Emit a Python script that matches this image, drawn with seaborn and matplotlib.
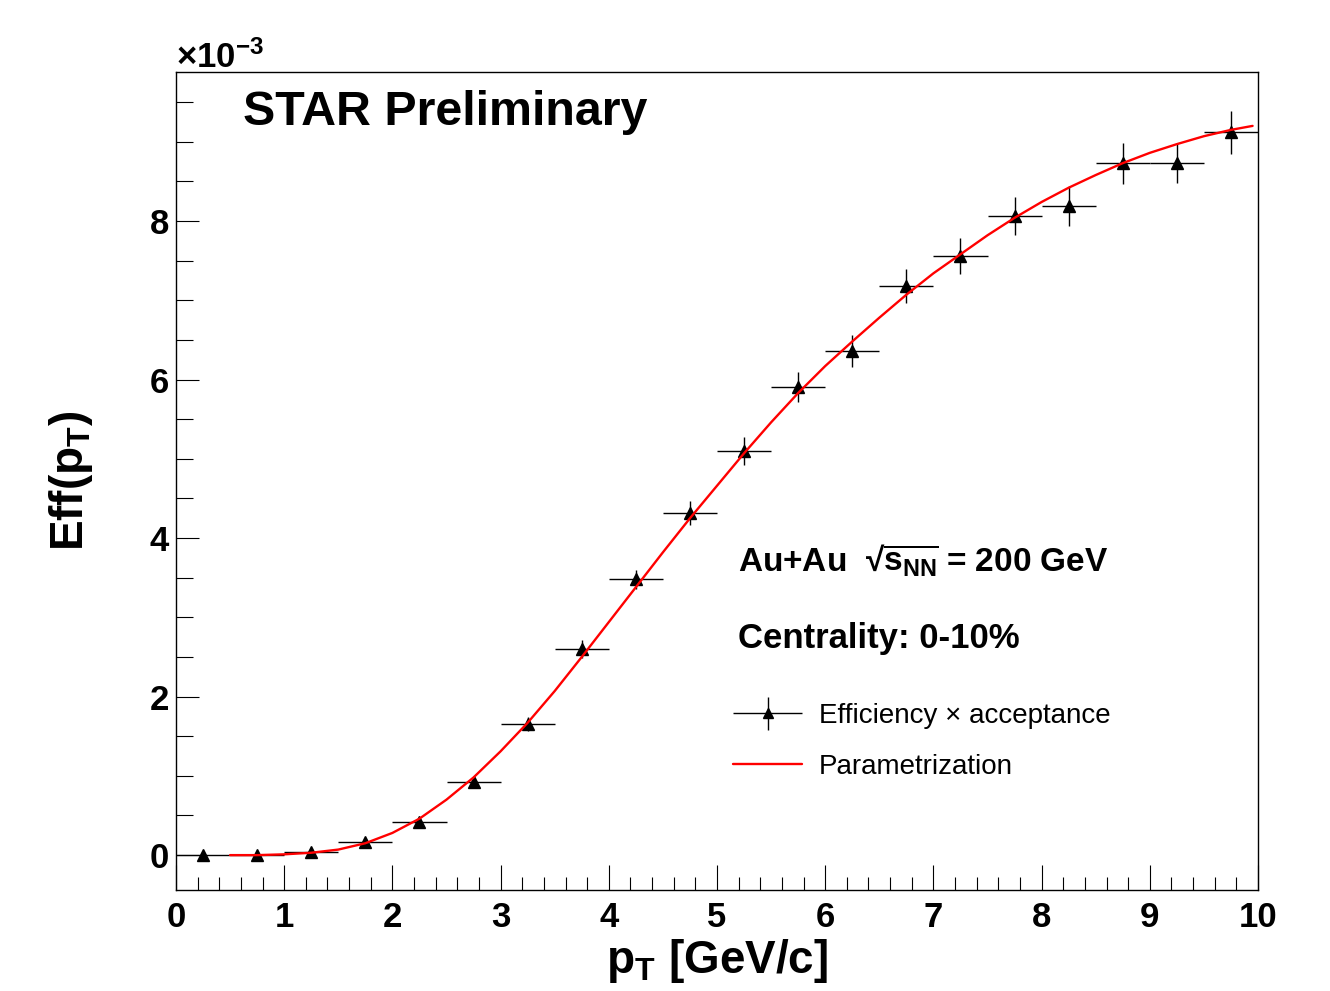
import numpy as np
import pandas as pd
import matplotlib
matplotlib.use("Agg")
import matplotlib.pyplot as plt
import seaborn as sns
from matplotlib.ticker import MultipleLocator, FixedLocator
from matplotlib.legend_handler import HandlerErrorbar

# ---------------- data (efficiency values in units of 1e-3) ----------------
pt_centers = [0.25, 0.75, 1.25, 1.75, 2.25, 2.75, 3.25, 3.75, 4.25, 4.75,
              5.25, 5.75, 6.25, 6.75, 7.25, 7.75, 8.25, 8.75, 9.25, 9.75]
pt_halfwidth = [0.25] * 20
eff_values = [0.00, 0.00, 0.04, 0.17, 0.42, 0.92, 1.65, 2.60, 3.48, 4.32,
              5.10, 5.91, 6.36, 7.18, 7.56, 8.06, 8.19, 8.73, 8.73, 9.12]
eff_errors = [0.01, 0.01, 0.02, 0.03, 0.05, 0.07, 0.09, 0.11, 0.12, 0.15,
              0.18, 0.19, 0.20, 0.22, 0.23, 0.24, 0.25, 0.26, 0.25, 0.27]

curve_pt = [0.5, 0.75, 1.0, 1.25, 1.5, 1.75, 2.0, 2.25, 2.5, 2.75, 3.0, 3.25,
            3.5, 3.75, 4.0, 4.25, 4.5, 4.75, 5.0, 5.25, 5.5, 5.75, 6.0, 6.25,
            6.5, 6.75, 7.0, 7.25, 7.5, 7.75, 8.0, 8.25, 8.5, 8.75, 9.0, 9.25,
            9.5, 9.75, 9.95]
curve_eff = [0.00, 0.00, 0.01, 0.03, 0.07, 0.15, 0.28, 0.46, 0.70, 0.98, 1.31, 1.67,
             2.07, 2.50, 2.94, 3.38, 3.82, 4.25, 4.66, 5.07, 5.46, 5.83, 6.17, 6.48,
             6.78, 7.07, 7.34, 7.58, 7.82, 8.04, 8.24, 8.42, 8.58, 8.73, 8.86, 8.97,
             9.07, 9.15, 9.20]

x_ticks = [0, 1, 2, 3, 4, 5, 6, 7, 8, 9, 10]
y_ticks = [0, 2, 4, 6, 8]

label_points = "Efficiency \u00d7 acceptance"
label_curve = "Parametrization"

# ---------------- style ----------------
sns.set_theme(style="ticks")
plt.rcParams.update({
    "font.family": ["Liberation Sans", "DejaVu Sans"],
    "font.weight": "bold",
    "text.color": "black",
    "axes.labelcolor": "black",
    "xtick.color": "black",
    "ytick.color": "black",
    "mathtext.fontset": "custom",
    "mathtext.rm": "Liberation Sans:bold",
    "mathtext.it": "Liberation Sans:bold",
    "mathtext.bf": "Liberation Sans:bold",
    "mathtext.sf": "Liberation Sans:bold",
    "axes.linewidth": 1.0,
    "axes.edgecolor": "black",
})

W, H = 1330, 991
fig = plt.figure(figsize=(W / 100, H / 100), dpi=100)
fig.patch.set_facecolor("white")
ax = fig.add_axes([176 / W, 1 - 890 / H, 1082 / W, 818 / H])
ax.set_facecolor("white")

eb = ax.errorbar(pt_centers, eff_values, xerr=pt_halfwidth, yerr=eff_errors,
                 fmt="^", color="black", ms=9, lw=1.0, elinewidth=1.0, capsize=0,
                 label=label_points, zorder=3)

df_curve = pd.DataFrame({"pt": curve_pt, "eff": curve_eff})
sns.lineplot(data=df_curve, x="pt", y="eff", color="#ff0000", lw=1.7,
             ax=ax, label=label_curve, sort=False, zorder=4)

ax.set_xlim(0, 10)
ax.set_ylim(-0.44, 9.88)

ax.xaxis.set_major_locator(FixedLocator(x_ticks))
ax.xaxis.set_minor_locator(MultipleLocator(0.2))
ax.yaxis.set_major_locator(FixedLocator(y_ticks))
ax.yaxis.set_minor_locator(MultipleLocator(0.5))
ax.set_xticklabels([str(t) for t in x_ticks])
ax.set_yticklabels([str(t) for t in y_ticks])

ax.tick_params(axis="both", which="both", direction="in", top=False,
               right=False, colors="black", width=0.8, labelsize=25)
ax.tick_params(axis="x", which="major", length=18, pad=8)
ax.tick_params(axis="x", which="minor", length=9.5)
ax.tick_params(axis="y", which="major", length=16.5, pad=5)
ax.tick_params(axis="y", which="minor", length=12)
for lab in ax.get_xticklabels() + ax.get_yticklabels():
    lab.set_fontweight("bold")
    lab.set_color("black")

for s in ax.spines.values():
    s.set_visible(True)
    s.set_color("black")
    s.set_linewidth(1.0)

ax.set_xlabel(r"p$_{\mathregular{T}}$ [GeV/c]", fontsize=33, fontweight="bold")
ax.set_ylabel(r"Eff(p$_{\mathregular{T}}$)", fontsize=33, fontweight="bold")
ax.xaxis.set_label_coords(0.5, -0.058)
ax.yaxis.set_label_coords(-0.075, 0.5)
ax.xaxis.label.set_va("top")

# exponent label
ax.text(0.0, 1.005, "\u00d710$^{-3}$", transform=ax.transAxes, ha="left",
        va="baseline", fontsize=25, fontweight="bold")

ax.text(0.062, 0.935, "STAR Preliminary", transform=ax.transAxes,
        fontsize=34.8, fontweight="bold", ha="left", va="baseline")
ax.text(0.519, 0.389,
        "Au+Au  \u221a$\\overline{\\mathregular{s}_{\\mathregular{NN}}}$ = 200 GeV",
        transform=ax.transAxes, fontsize=24, fontweight="bold",
        ha="left", va="baseline")
ax.text(0.519, 0.296, "Centrality: 0-10%", transform=ax.transAxes,
        fontsize=25, fontweight="bold", ha="left", va="baseline")

handles, labels = ax.get_legend_handles_labels()
order = [labels.index(label_points), labels.index(label_curve)]
handles = [handles[i] for i in order]
labels = [labels[i] for i in order]
leg = ax.legend(handles, labels, loc="upper left",
                bbox_to_anchor=((733 - 176) / 1082, (890 - 703) / 818),
                frameon=False, prop={"weight": "normal", "size": 20,
                                     "family": "Liberation Sans"},
                handlelength=2.5, handletextpad=0.6, labelspacing=0.9,
                borderpad=0, borderaxespad=0, markerscale=0.8,
                handler_map={type(eb): HandlerErrorbar(xerr_size=1.25, yerr_size=0.6)})
for t in leg.get_texts():
    t.set_color("black")

fig.savefig("out.png", dpi=100, facecolor="white")
